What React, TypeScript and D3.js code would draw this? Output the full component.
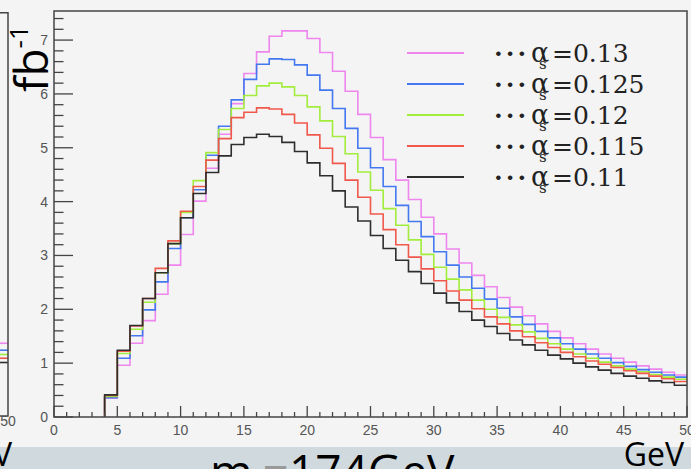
import React from "react";
import * as d3 from "d3";

const W = 691;
const H = 469;

// histogram: 1 GeV bins, first filled bin starts at 4 GeV
const BIN_START = 4;
const X_MAX = 50;
const Y_MAX = 7.54;

const alphaLabels = ["0.13", "0.125", "0.12", "0.115", "0.11"];
const colors = ["#ee86ee", "#4378f0", "#a2ec3c", "#f0584c", "#2e2e2e"];

const histA013 = [
  0.35, 0.96, 1.37, 1.79, 2.28, 2.82, 3.39, 4.01, 4.62, 5.25,
  5.82, 6.38, 6.78, 7.07, 7.17, 7.17, 7.03, 6.77, 6.42, 6.05,
  5.62, 5.19, 4.78, 4.4, 4.04, 3.71, 3.4, 3.12, 2.86, 2.63,
  2.42, 2.22, 2.04, 1.88, 1.73, 1.59, 1.47, 1.36, 1.26, 1.17,
  1.09, 1.02, 0.95, 0.89, 0.83, 0.78,
];
const histA0125 = [
  0.36, 1.09, 1.51, 1.99, 2.51, 3.13, 3.7, 4.22, 4.86, 5.4,
  5.89, 6.27, 6.55, 6.65, 6.64, 6.54, 6.35, 6.07, 5.73, 5.36,
  4.99, 4.63, 4.28, 3.93, 3.63, 3.35, 3.07, 2.82, 2.6, 2.39,
  2.19, 2.02, 1.86, 1.72, 1.59, 1.47, 1.36, 1.26, 1.17, 1.09,
  1.01, 0.94, 0.88, 0.83, 0.78, 0.74,
];
const histA012 = [
  0.38, 1.18, 1.63, 2.13, 2.68, 3.22, 3.8, 4.39, 4.91, 5.34,
  5.73, 5.97, 6.15, 6.2, 6.13, 5.97, 5.76, 5.5, 5.21, 4.89,
  4.55, 4.21, 3.87, 3.56, 3.29, 3.02, 2.78, 2.56, 2.36, 2.17,
  2.0, 1.85, 1.71, 1.58, 1.46, 1.36, 1.26, 1.17, 1.09, 1.02,
  0.95, 0.89, 0.84, 0.79, 0.74, 0.7,
];
const histA0115 = [
  0.4, 1.22, 1.69, 2.2, 2.76, 3.27, 3.82, 4.28, 4.77, 5.17,
  5.56, 5.66, 5.74, 5.72, 5.62, 5.46, 5.24, 4.99, 4.71, 4.4,
  4.08, 3.77, 3.48, 3.2, 2.97, 2.75, 2.53, 2.34, 2.17, 2.01,
  1.86, 1.73, 1.6, 1.49, 1.38, 1.29, 1.2, 1.12, 1.04, 0.98,
  0.92, 0.86, 0.81, 0.76, 0.71, 0.66,
];
const histA011 = [
  0.41, 1.24, 1.7, 2.2, 2.68, 3.22, 3.7, 4.15, 4.54, 4.85,
  5.06, 5.19, 5.25, 5.21, 5.1, 4.93, 4.72, 4.48, 4.2, 3.9,
  3.64, 3.37, 3.13, 2.91, 2.7, 2.48, 2.3, 2.12, 1.96, 1.8,
  1.68, 1.55, 1.43, 1.34, 1.24, 1.15, 1.08, 1.0, 0.93, 0.87,
  0.81, 0.76, 0.72, 0.67, 0.64, 0.59,
];
const series = [histA013, histA0125, histA012, histA0115, histA011];

// last bin of the neighbouring (cut-off) panel on the left
const leftPanelTail = [1.36, 1.23, 1.15, 1.08, 1.0];

const xTickLabels = ["0", "5", "10", "15", "20", "25", "30", "35", "40", "45", "50"];
const yTickLabels = ["0", "1", "2", "3", "4", "5", "6", "7"];

const FRAME = { left: 54, right: 687, top: 11, bottom: 417 };
const AXIS_COLOR = "#444";
const LABEL_COLOR = "#555";

export default function App() {
  const x = d3.scaleLinear().domain([0, X_MAX]).range([FRAME.left, FRAME.right]);
  const y = d3.scaleLinear().domain([0, Y_MAX]).range([FRAME.bottom, FRAME.top]);

  // left panel shares the same layout, only its right edge shows
  const lx = d3.scaleLinear().domain([0, X_MAX]).range([8 - (FRAME.right - FRAME.left), 8]);
  const ly = d3.scaleLinear().domain([0, Y_MAX]).range([416, 12.7]);

  const step = d3
    .line<[number, number]>()
    .x((d) => x(d[0]))
    .y((d) => y(d[1]))
    .curve(d3.curveStepAfter);

  const toPoints = (vals: number[]): [number, number][] => [
    [BIN_START, 0],
    ...vals.map((v, i) => [BIN_START + i, v] as [number, number]),
    [X_MAX, vals[vals.length - 1]],
  ];

  const xMinor = d3.range(0, X_MAX + 0.001, 1);
  const yMinor = d3.range(0, Y_MAX, 0.2);

  const legendX0 = 407;
  const legendX1 = 464;
  const legendY0 = 53;
  const legendStep = 31;

  return (
    <div style={{ position: "absolute", left: 0, top: 0 }}>
      <svg width={W} height={H} style={{ display: "block" }}>
        <rect width={W} height={H} fill="#f4f4f4" />
        <rect x={0} y={447} width={W} height={H - 447} fill="#cfd9de" />

        {/* left neighbour panel */}
        <g>
          {leftPanelTail.map((v, i) => (
            <line key={i} x1={lx(X_MAX - 1)} x2={lx(X_MAX)} y1={ly(v)} y2={ly(v)}
              stroke={colors[i]} strokeWidth={1.6} />
          ))}
          <path d={`M0,${ly(Y_MAX)}H${lx(X_MAX)}V${ly(0)}H0`} fill="none"
            stroke={AXIS_COLOR} strokeWidth={1.5} />
          <text x={lx(X_MAX)} y={ly(0) + 10} textAnchor="middle" fontFamily="Liberation Sans, Arial"
            fontSize={14} fill={LABEL_COLOR}>50</text>
        </g>

        {/* histograms */}
        {series.map((s, i) => (
          <path key={i} d={step(toPoints(s)) || ""} fill="none" stroke={colors[i]} strokeWidth={1.6} />
        ))}

        {/* frame */}
        <rect x={FRAME.left} y={FRAME.top} width={FRAME.right - FRAME.left}
          height={FRAME.bottom - FRAME.top} fill="none" stroke={AXIS_COLOR} strokeWidth={1.5} />

        {/* x ticks */}
        {xMinor.map((t) => (
          <line key={t} x1={x(t)} x2={x(t)} y1={FRAME.bottom}
            y2={FRAME.bottom - (t % 5 === 0 ? 11 : 5)} stroke={AXIS_COLOR} strokeWidth={1.3} />
        ))}
        {xTickLabels.map((l) => (
          <text key={l} x={x(+l)} y={FRAME.bottom + 18} textAnchor="middle"
            fontFamily="Liberation Sans, Arial" fontSize={14} fill={LABEL_COLOR}>{l}</text>
        ))}

        {/* y ticks */}
        {yMinor.map((t, i) => (
          <line key={i} x1={FRAME.left} x2={FRAME.left + (i % 5 === 0 ? 19 : 9.5)}
            y1={y(t)} y2={y(t)} stroke={AXIS_COLOR} strokeWidth={1.3} />
        ))}
        {yTickLabels.map((l) => (
          <text key={l} x={48} y={y(+l) + 5} textAnchor="end"
            fontFamily="Liberation Sans, Arial" fontSize={14} fill={LABEL_COLOR}>{l}</text>
        ))}

        {/* y title */}
        <text transform="translate(48,92) rotate(-90)" fontFamily="Open Sans" fontSize={46} fill="#000">
          fb<tspan fontSize={26} dy={-20}>-1</tspan>
        </text>

        {/* legend */}
        {alphaLabels.map((l, i) => {
          const ly0 = legendY0 + i * legendStep;
          return (
            <g key={l}>
              <line x1={legendX0} x2={legendX1} y1={ly0} y2={ly0} stroke={colors[i]} strokeWidth={1.8} />
              <text y={ly0 + 9} fontFamily="DejaVu Serif" fontSize={25} fill="#222">
                <tspan x={494} fontWeight="bold" letterSpacing={3}>{"\u00B7\u00B7\u00B7"}</tspan>
                <tspan x={531} fontSize={27}>{"\u03B1"}</tspan>
                <tspan x={539} fontSize={15} dy={7}>s</tspan>
                <tspan x={552} dy={-7}>={l}</tspan>
              </text>
            </g>
          );
        })}

        {/* slide captions */}
        <text x={12} y={466} textAnchor="end" fontFamily="Open Sans" fontSize={32} fill="#000">GeV</text>
        <text x={684} y={466} textAnchor="end" fontFamily="Open Sans" fontSize={32} fill="#000">GeV</text>
        <text x={210} y={488} fontFamily="Open Sans" fontSize={46} fill="#000">
          m<tspan fontSize={28} dy={8}>t</tspan>
          <tspan dy={-8} fill="#999">=</tspan>174GeV
        </text>
      </svg>
    </div>
  );
}
